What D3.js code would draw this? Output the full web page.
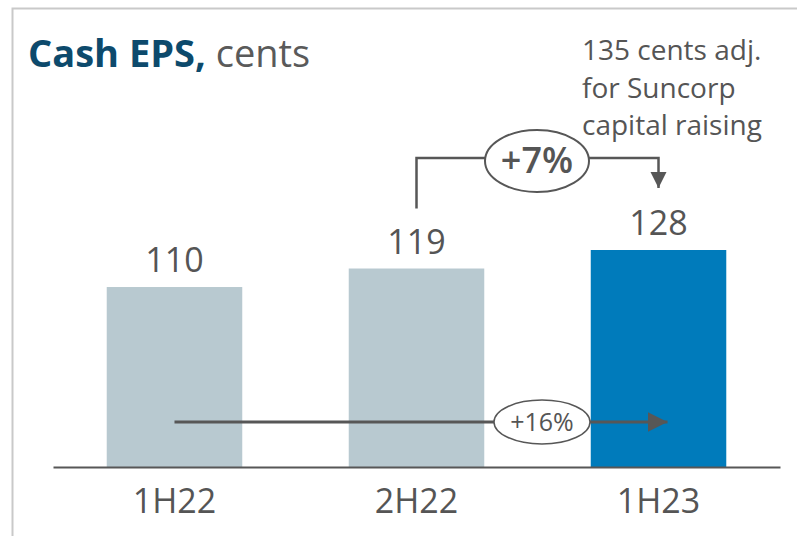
<!DOCTYPE html>
<html>
<head>
<meta charset="utf-8">
<script src="https://cdn.jsdelivr.net/npm/d3@7"></script>
<style>
  body { margin: 0; background: #fff; }
  svg { display: block; font-family: "Open Sans", sans-serif; }
</style>
</head>
<body>
<div class="canvas"></div>
<script>
// data
const periods = ["1H22", "2H22", "1H23"];
const cashEps = [110, 119, 128];
const stepGrowth = "+7%";
const totalGrowth = "+16%";
const noteLines = ["135 cents adj.", "for Suncorp", "capital raising"];

// dimensions
const dims = { width: 797, height: 536 };
const axisY = 467;
const yFloor = 22.5; // value axis does not start at zero in the original

const svg = d3
  .select(".canvas")
  .append("svg")
  .attr("width", dims.width)
  .attr("height", dims.height);

// arrow markers
const defs = svg.append("defs");
defs
  .append("marker")
  .attr("id", "head")
  .attr("viewBox", "0 0 10 10")
  .attr("refX", 10)
  .attr("refY", 5)
  .attr("markerWidth", 6.5)
  .attr("markerHeight", 6.5)
  .attr("markerUnits", "strokeWidth")
  .attr("orient", "auto")
  .append("path")
  .attr("d", "M0,0 L10,5 L0,10 Z")
  .attr("fill", "#575757");

// frame
svg
  .append("path")
  .attr("d", `M12.5,${dims.height} L12.5,8.5 L${dims.width},8.5`)
  .attr("fill", "none")
  .attr("stroke", "#c9c9c9")
  .attr("stroke-width", 2);

// title
const title = svg.append("text").attr("x", 28).attr("y", 67).attr("font-size", 38);
title.append("tspan").attr("font-weight", 700).attr("fill", "#0d4a6c").text("Cash EPS,");
title.append("tspan").attr("fill", "#5a5a5a").text(" cents");

// scales
const x = d3
  .scaleBand()
  .domain(periods)
  .range([53, 780])
  .paddingInner(0.44)
  .paddingOuter(0.222);

const y = d3.scaleLinear().domain([yFloor, 128]).range([axisY, 250]);

const color = (i) => (i === periods.length - 1 ? "#007bbb" : "#b8c9d0");

// bars
svg
  .selectAll("rect.bar")
  .data(cashEps)
  .enter()
  .append("rect")
  .attr("class", "bar")
  .attr("x", (d, i) => x(periods[i]))
  .attr("y", (d) => y(d))
  .attr("width", x.bandwidth())
  .attr("height", (d) => axisY - y(d))
  .attr("fill", (d, i) => color(i));

// value labels
svg
  .selectAll("text.value")
  .data(cashEps)
  .enter()
  .append("text")
  .attr("class", "value")
  .attr("x", (d, i) => x(periods[i]) + x.bandwidth() / 2)
  .attr("y", (d) => y(d) - 15)
  .attr("text-anchor", "middle")
  .attr("font-size", 34)
  .attr("fill", "#555")
  .text((d) => d);

// category axis
const xAxis = svg
  .append("g")
  .attr("transform", `translate(0, ${axisY})`)
  .call(d3.axisBottom(x).tickSize(0).tickPadding(22));
xAxis.select(".domain").attr("stroke", "#575757").attr("stroke-width", 2);
xAxis
  .selectAll("text")
  .attr("font-family", "Open Sans, sans-serif")
  .attr("font-size", 34)
  .attr("fill", "#555")
  .attr("dy", "0.71em");

const cx = (i) => x(periods[i]) + x.bandwidth() / 2;

// +7% bracket between 2H22 and 1H23
const bracketY = 158;
const ell7 = { cx: 537, cy: 161, rx: 52, ry: 31 };
svg
  .append("path")
  .attr("d", `M${cx(1)},${y(cashEps[1]) - 60} V${bracketY} H${ell7.cx - ell7.rx}`)
  .attr("fill", "none")
  .attr("stroke", "#575757")
  .attr("stroke-width", 2.5);
svg
  .append("path")
  .attr("d", `M${ell7.cx + ell7.rx},${bracketY} H${cx(2)} V${y(cashEps[2]) - 62}`)
  .attr("fill", "none")
  .attr("stroke", "#575757")
  .attr("stroke-width", 2.5)
  .attr("marker-end", "url(#head)");
svg
  .append("ellipse")
  .attr("cx", ell7.cx)
  .attr("cy", ell7.cy)
  .attr("rx", ell7.rx)
  .attr("ry", ell7.ry)
  .attr("fill", "#fff")
  .attr("stroke", "#575757")
  .attr("stroke-width", 2);
svg
  .append("text")
  .attr("x", ell7.cx)
  .attr("y", 173)
  .attr("text-anchor", "middle")
  .attr("font-size", 36)
  .attr("font-weight", 600)
  .attr("fill", "#555")
  .text(stepGrowth);

// +16% arrow across bars
const arrowY = 422;
const ell16 = { cx: 542, cy: 422, rx: 48, ry: 22 };
svg
  .append("path")
  .attr("d", `M${cx(0)},${arrowY} H${cx(2) + 9}`)
  .attr("stroke", "#575757")
  .attr("stroke-width", 3)
  .attr("marker-end", "url(#head)");
svg
  .append("ellipse")
  .attr("cx", ell16.cx)
  .attr("cy", ell16.cy)
  .attr("rx", ell16.rx)
  .attr("ry", ell16.ry)
  .attr("fill", "#fff")
  .attr("stroke", "#575757")
  .attr("stroke-width", 1.5);
svg
  .append("text")
  .attr("x", ell16.cx)
  .attr("y", arrowY + 9)
  .attr("text-anchor", "middle")
  .attr("font-size", 25)
  .attr("fill", "#555")
  .text(totalGrowth);

// note about capital raising
svg
  .append("text")
  .attr("x", 582)
  .attr("y", 60)
  .attr("font-size", 28)
  .attr("fill", "#555")
  .selectAll("tspan")
  .data(noteLines)
  .enter()
  .append("tspan")
  .attr("x", 582)
  .attr("dy", (d, i) => (i === 0 ? 0 : 37.5))
  .text((d) => d);
</script>
</body>
</html>
